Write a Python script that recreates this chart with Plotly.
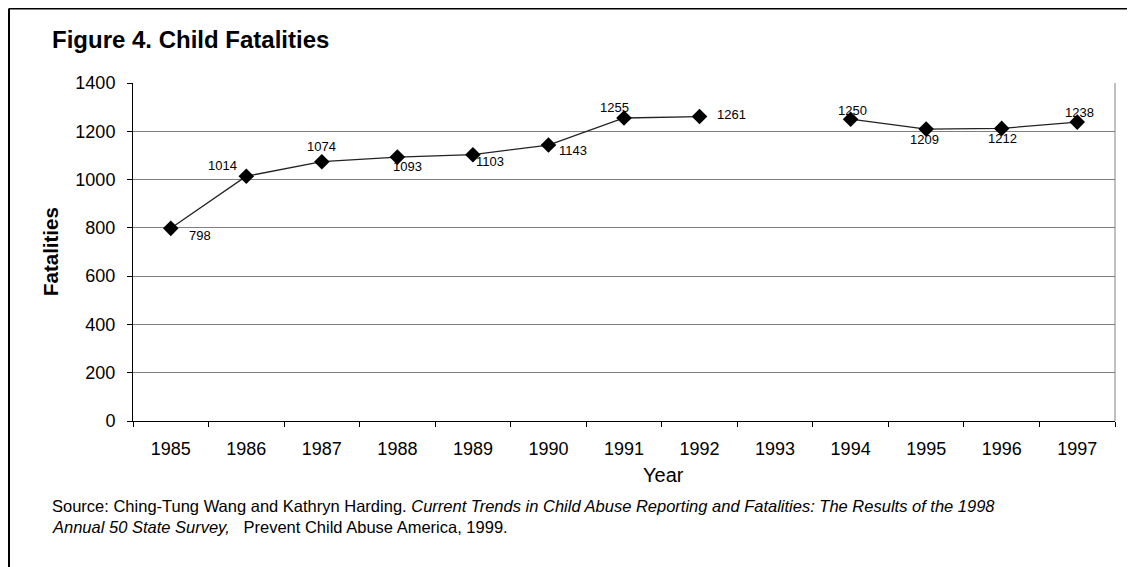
import plotly.graph_objects as go

# ---- data ----
years = ["1985", "1986", "1987", "1988", "1989", "1990", "1991",
         "1992", "1993", "1994", "1995", "1996", "1997"]
fatalities = [798, 1014, 1074, 1093, 1103, 1143, 1255, 1261, None,
              1250, 1209, 1212, 1238]
y_ticks = [0, 200, 400, 600, 800, 1000, 1200, 1400]

# label offsets in pixels (style only)
label_shift = [(29, -7), (-24, 11), (0, 15), (10, -9), (17, -7), (25, -5),
               (-10, 11), (32, 2), None, (2, 9), (-2, -10), (1, -10), (2, 10)]

# page has an 8px body margin: figure is drawn 8px right / down
OFF = 8
W, H = 1135 - OFF, 567 - OFF
L, R, T, B = 133 - OFF, 20, 83 - OFF, 146
PW, PH = W - L - R, H - T - B


def px(x):
    # x given in reference-image pixels
    return (x - OFF - L) / PW


def py(y):
    return (H - B - (y - OFF)) / PH


FONT = "Liberation Sans, Arial, sans-serif"

fig = go.Figure()
fig.add_trace(go.Scatter(
    x=years, y=fatalities, mode="lines+markers",
    line=dict(color="#222222", width=1.3),
    marker=dict(symbol="diamond", size=12, color="black"),
    connectgaps=False, hoverinfo="x+y", showlegend=False,
))

annotations = []
for i, (v, sh) in enumerate(zip(fatalities, label_shift)):
    if v is None:
        continue
    annotations.append(dict(
        x=i, y=v, xref="x", yref="y", text=str(v), showarrow=False,
        xshift=sh[0], yshift=sh[1], xanchor="center", yanchor="middle",
        font=dict(family=FONT, size=13, color="black"),
    ))

annotations += [
    dict(x=px(50), y=py(40), xref="paper", yref="paper", showarrow=False,
         text="<b>Figure 4. Child Fatalities</b>", xanchor="left", yanchor="middle",
         font=dict(family=FONT, size=24, color="black")),
    dict(x=px(50), y=py(252), xref="paper", yref="paper", showarrow=False,
         text="<b>Fatalities</b>", textangle=-90, xanchor="center", yanchor="middle",
         font=dict(family=FONT, size=20.5, color="black")),
    dict(x=px(663), y=py(475), xref="paper", yref="paper", showarrow=False,
         text="Year", xanchor="center", yanchor="middle",
         font=dict(family=FONT, size=20, color="black")),
    dict(x=px(50), y=py(506), xref="paper", yref="paper", showarrow=False,
         text="Source: Ching-Tung Wang and Kathryn Harding. <i>Current Trends in Child Abuse "
              "Reporting and Fatalities: The Results of the 1998</i>",
         xanchor="left", yanchor="middle",
         font=dict(family=FONT, size=16.5, color="black")),
    dict(x=px(50), y=py(527), xref="paper", yref="paper", showarrow=False,
         text="<i>Annual 50 State Survey,</i>   Prevent Child Abuse America, 1999.",
         xanchor="left", yanchor="middle",
         font=dict(family=FONT, size=16.5, color="black")),
]

shapes = [
    # outer frame (left and top)
    dict(type="line", xref="paper", yref="paper", x0=px(9), x1=px(9),
         y0=py(8.5), y1=py(H + 20), line=dict(color="black", width=2)),
    dict(type="line", xref="paper", yref="paper", x0=px(9), x1=px(W + 30),
         y0=py(8.5), y1=py(8.5), line=dict(color="black", width=2)),
    # plot area right border
    dict(type="line", xref="paper", yref="paper", x0=1, x1=1, y0=0, y1=1,
         line=dict(color="#808080", width=1)),
]

fig.update_layout(
    width=W, height=H,
    margin=dict(l=L, r=R, t=T, b=B, pad=0),
    paper_bgcolor="white", plot_bgcolor="white",
    font=dict(family=FONT, color="black"),
    annotations=annotations, shapes=shapes,
    xaxis=dict(
        type="category", categoryorder="array", categoryarray=years,
        range=[-0.5, len(years) - 0.5],
        showline=True, linecolor="black", linewidth=1,
        ticks="outside", tickson="boundaries", ticklen=5, tickcolor="black",
        showgrid=False, zeroline=False,
        tickfont=dict(family=FONT, size=18, color="black"),
        ticklabelstandoff=11,
    ),
    yaxis=dict(
        range=[0, 1400], tickmode="array", tickvals=y_ticks,
        ticktext=[str(t) for t in y_ticks],
        showline=True, linecolor="black", linewidth=1,
        ticks="outside", ticklen=5, tickcolor="black",
        showgrid=True, gridcolor="#808080", gridwidth=1, zeroline=False,
        tickfont=dict(family=FONT, size=18, color="black"),
        ticklabelstandoff=8,
    ),
)

fig.write_html("out.html")
